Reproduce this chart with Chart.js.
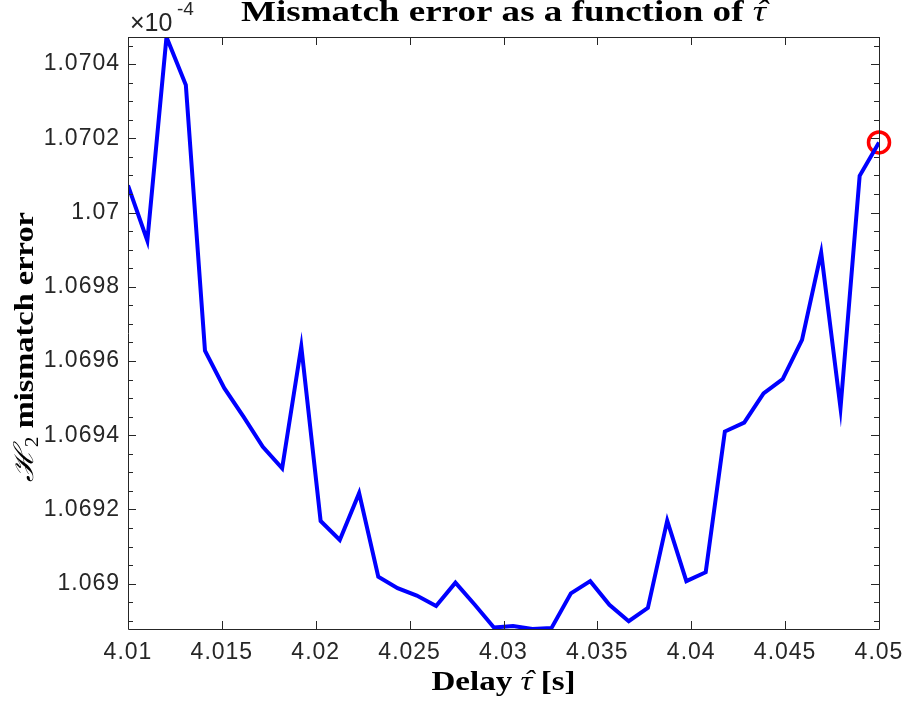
<!DOCTYPE html>
<html><head><meta charset="utf-8">
<script src="https://cdn.jsdelivr.net/npm/chart.js@4/dist/chart.umd.min.js"></script>
<style>html,body{margin:0;padding:0;background:#fff;overflow:hidden}</style>
</head><body>
<canvas id="c" width="906" height="704"></canvas>
<script>
// ---- data (delay in s, H2 mismatch error in units of 1e-4) ----
const delays = [4.01000,4.01103,4.01205,4.01308,4.01410,4.01513,4.01615,4.01718,4.01821,4.01923,
                4.02026,4.02128,4.02231,4.02333,4.02436,4.02538,4.02641,4.02744,4.02846,4.02949,
                4.03051,4.03154,4.03256,4.03359,4.03462,4.03564,4.03667,4.03769,4.03872,4.03974,
                4.04077,4.04179,4.04282,4.04385,4.04487,4.04590,4.04692,4.04795,4.04897,4.05000];
const mismatch = [1.070073,1.069924,1.070473,1.070344,1.069628,1.069527,1.069450,1.069369,1.069311,1.069639,
                  1.069169,1.069118,1.069244,1.069019,1.068988,1.068968,1.068940,1.069003,1.068944,1.068882,
                  1.068886,1.068878,1.068881,1.068974,1.069007,1.068943,1.068899,1.068935,1.069170,1.069007,
                  1.069031,1.069410,1.069434,1.069513,1.069551,1.069657,1.069892,1.069473,1.070099,1.070189];
const markedDelay = [4.05];
const markedMismatch = [1.070189];
const xTickValues = [4.01,4.015,4.02,4.025,4.03,4.035,4.04,4.045,4.05];
const yTickValues = [1.069,1.0692,1.0694,1.0696,1.0698,1.07,1.0702,1.0704];
const yMinorStep = 0.00005;
const yExponent = '-4';
const titleText = 'Mismatch error as a function of ';
const xLabelText = 'Delay ';
const yLabelText = ' mismatch error';

const yMin = Math.min(...mismatch), yMax = Math.max(...mismatch);
const yAllTicks = [];
for (let k = Math.ceil(yMin / yMinorStep - 1e-6); k * yMinorStep <= yMax + 1e-12; k++) yAllTicks.push(+(k * yMinorStep).toFixed(6));
const isMajorY = v => yTickValues.some(t => Math.abs(t - v) < 1e-9);

const AX = '#262626';

function drawRich(ctx, parts, x, y, targetW, angle) {
  ctx.save();
  ctx.letterSpacing = '0px';
  let total = 0;
  parts.forEach(p => { ctx.font = p.font; p.w = ctx.measureText(p.text).width; total += p.w; });
  const sx = targetW ? targetW / total : 1;
  ctx.translate(x, y);
  if (angle) ctx.rotate(angle);
  ctx.scale(sx, 1);
  let cx = -total / 2;
  ctx.textBaseline = 'alphabetic';
  ctx.fillStyle = '#000';
  parts.forEach(p => {
    ctx.font = p.font; ctx.textAlign = 'left';
    ctx.fillText(p.text, cx, p.dy || 0);
    if (p.hat) {
      ctx.textAlign = 'center';
      ctx.font = p.hatFont || p.font;
      ctx.fillText('\u02C6', cx + p.w / 2 + (p.hatShift || 2), (p.dy || 0) + (p.hatDy || 0));
    }
    cx += p.w;
  });
  ctx.restore();
}

const matlabAxes = {
  id: 'matlabAxes',
  beforeDraw(chart) { chart.ctx.letterSpacing = '1px'; },
  afterDatasetsDraw(chart) {
    const ctx = chart.ctx, a = chart.chartArea;
    const xs = chart.scales.x, ys = chart.scales.y;
    ctx.save();
    ctx.strokeStyle = AX; ctx.lineWidth = 1;
    ctx.beginPath();
    ctx.rect(Math.round(a.left) + 0.5, Math.round(a.top) + 0.5, Math.round(a.right) - Math.round(a.left), Math.round(a.bottom) - Math.round(a.top));
    ctx.stroke();
    ctx.beginPath();
    xs.ticks.forEach(t => {
      const px = Math.round(xs.getPixelForValue(t.value)) + 0.5;
      ctx.moveTo(px, a.bottom); ctx.lineTo(px, a.bottom - 8);
      ctx.moveTo(px, a.top); ctx.lineTo(px, a.top + 8);
    });
    ys.ticks.forEach(t => {
      const py = Math.round(ys.getPixelForValue(t.value)) + 0.5;
      const len = isMajorY(t.value) ? 8 : 5;
      ctx.moveTo(a.left, py); ctx.lineTo(a.left + len, py);
      ctx.moveTo(a.right, py); ctx.lineTo(a.right - len, py);
    });
    ctx.stroke();
    ctx.restore();
  },
  afterDraw(chart) {
    const ctx = chart.ctx, a = chart.chartArea;
    // exponent label
    ctx.save();
    ctx.letterSpacing = '0px';
    ctx.fillStyle = AX; ctx.textAlign = 'left'; ctx.textBaseline = 'alphabetic';
    ctx.font = '25px "Liberation Sans", Arial, sans-serif';
    ctx.fillText('\u00D710', a.left + 2, 31);
    ctx.font = '19px "Liberation Sans", Arial, sans-serif';
    ctx.fillText(yExponent, a.left + 49, 15);
    ctx.restore();
    const cxArea = (a.left + a.right) / 2;
    // title
    drawRich(ctx, [
      { text: titleText, font: 'bold 29px "Liberation Serif", serif' },
      { text: '\u03C4', font: 'italic 29px "Liberation Serif", serif', hat: true, hatDy: -1, hatShift: 2 }
    ], cxArea, 21, 525, 0);
    // x label
    drawRich(ctx, [
      { text: xLabelText, font: 'bold 27px "Liberation Serif", serif' },
      { text: '\u03C4', font: 'italic 27px "Liberation Serif", serif', hat: true, hatDy: -1, hatShift: 2 },
      { text: ' [s]', font: 'bold 27px "Liberation Serif", serif' }
    ], cxArea, 690, 144, 0);
    // y label
    drawRich(ctx, [
      { text: '\u210B', font: 'italic 27px "DejaVu Serif", serif' },
      { text: '2', font: '18px "Liberation Serif", serif', dy: 5 },
      { text: yLabelText, font: 'bold 27px "Liberation Serif", serif' }
    ], 33, 347, 270, -Math.PI / 2);
  }
};

new Chart(document.getElementById('c'), {
  type: 'line',
  data: {
    datasets: [
      {
        data: delays.map((d, i) => ({ x: d, y: mismatch[i] })),
        borderColor: '#0000FF', borderWidth: 4, pointRadius: 0, tension: 0, fill: false,
        borderJoinStyle: 'miter'
      },
      {
        data: markedDelay.map((d, i) => ({ x: d, y: markedMismatch[i] })),
        showLine: false, pointRadius: 10.5, pointBorderWidth: 3.5,
        borderColor: '#FF0000', pointBorderColor: '#FF0000', backgroundColor: 'rgba(0,0,0,0)',
        pointBackgroundColor: 'rgba(0,0,0,0)', clip: false
      }
    ]
  },
  options: {
    responsive: false, animation: false, devicePixelRatio: 1,
    layout: { padding: { top: 37, right: 27, left: 0, bottom: 0 } },
    plugins: { legend: { display: false }, tooltip: { enabled: false }, title: { display: false } },
    scales: {
      x: {
        type: 'linear', min: 4.01, max: 4.05,
        grid: { display: false, drawTicks: false }, border: { display: false },
        afterBuildTicks: s => { s.ticks = xTickValues.map(v => ({ value: v })); },
        afterFit: s => { s.height = 75; s.paddingLeft = 0; s.paddingRight = 0; },
        ticks: {
          autoSkip: false, maxRotation: 0, padding: 10, color: AX,
          font: { family: '"Liberation Sans", Arial, sans-serif', size: 23 },
          callback: v => String(+(+v).toFixed(4))
        }
      },
      y: {
        type: 'linear', min: yMin, max: yMax,
        grid: { display: false, drawTicks: false }, border: { display: false },
        afterBuildTicks: s => { s.ticks = yAllTicks.map(v => ({ value: v })); },
        afterFit: s => { s.width = 128; },
        ticks: {
          autoSkip: false, padding: 8, color: AX,
          font: { family: '"Liberation Sans", Arial, sans-serif', size: 23 },
          callback: v => isMajorY(v) ? String(+(+v).toFixed(5)) : ''
        }
      }
    }
  },
  plugins: [matlabAxes]
});
</script>
</body></html>
